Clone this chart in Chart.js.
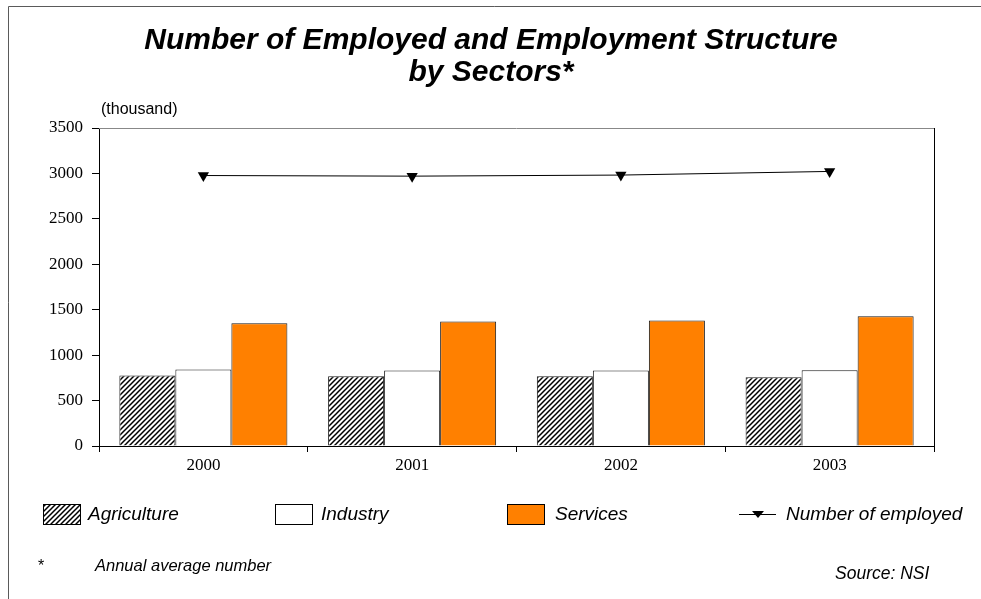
<!DOCTYPE html>
<html>
<head>
<meta charset="utf-8">
<script src="https://cdn.jsdelivr.net/npm/chart.js@4/dist/chart.umd.min.js"></script>
<style>
  html, body { margin: 0; padding: 0; background: #ffffff; }
  #wrap { width: 981px; height: 599px; position: relative; }
</style>
</head>
<body>
<div id="wrap"><canvas id="chart" width="981" height="599"></canvas></div>
<script>
// Employed persons by sector, thousands (annual average)
const years = ['2000', '2001', '2002', '2003'];
const agriculture = [776, 769, 769, 758];
const industry = [842, 831, 831, 835];
const services = [1351, 1369, 1380, 1428];
const employedTotal = [2977, 2970, 2982, 3022];
const yTicks = [0, 500, 1000, 1500, 2000, 2500, 3000, 3500];

const titleLines = ['Number of Employed and Employment Structure', 'by Sectors*'];
const unitLabel = '(thousand)';
const footnote = 'Annual average number';
const sourceNote = 'Source: NSI';

// Diagonal hatch fill for agriculture bars
function makeHatch() {
  const n = 5;
  const c = document.createElement('canvas');
  c.width = n; c.height = n;
  const g = c.getContext('2d');
  g.fillStyle = '#ffffff';
  g.fillRect(0, 0, n, n);
  g.strokeStyle = '#000000';
  g.lineWidth = 1.5;
  g.beginPath();
  g.moveTo(-1, n + 1); g.lineTo(n + 1, -1);
  g.moveTo(-1, 1); g.lineTo(1, -1);
  g.moveTo(n - 1, n + 1); g.lineTo(n + 1, n - 1);
  g.stroke();
  return document.getElementById('chart').getContext('2d').createPattern(c, 'repeat');
}
const hatch = makeHatch();

const SANS = '"Liberation Sans", Arial, sans-serif';
const SERIF = '"Liberation Serif", "Times New Roman", serif';

// Frame, titles, plot border, legend and notes
const decor = {
  id: 'decor',
  afterDraw(chart) {
    const ctx = chart.ctx;
    const a = chart.chartArea;
    ctx.save();

    // outer frame
    ctx.strokeStyle = '#5a5a5a';
    ctx.lineWidth = 1;
    ctx.beginPath();
    ctx.moveTo(8.5, 599); ctx.lineTo(8.5, 6.5); ctx.lineTo(981, 6.5);
    ctx.stroke();

    // plot top border (grey) and right border (black)
    ctx.strokeStyle = '#888888';
    ctx.beginPath();
    ctx.moveTo(a.left, Math.round(a.top) + 0.5); ctx.lineTo(a.right, Math.round(a.top) + 0.5);
    ctx.stroke();
    ctx.strokeStyle = '#000000';
    ctx.beginPath();
    ctx.moveTo(Math.round(a.right) + 0.5, a.top); ctx.lineTo(Math.round(a.right) + 0.5, a.bottom + 6);
    ctx.stroke();

    // title
    ctx.fillStyle = '#000000';
    ctx.textAlign = 'center';
    ctx.textBaseline = 'middle';
    ctx.font = 'italic bold 30px ' + SANS;
    ctx.fillText(titleLines[0], 491, 41);
    ctx.fillText(titleLines[1], 491, 73);

    // unit label
    ctx.textAlign = 'left';
    ctx.font = '16px ' + SANS;
    ctx.fillText(unitLabel, 101, 110);

    // legend
    const ds = chart.data.datasets;
    const ly = 514;
    const swatchX = [43, 275, 507];
    const textX = [88, 321, 555];
    ctx.font = 'italic 19px ' + SANS;
    for (let i = 0; i < 3; i++) {
      ctx.fillStyle = ds[i].backgroundColor;
      ctx.fillRect(swatchX[i], ly - 10, 38, 21);
      ctx.strokeStyle = '#000000';
      ctx.lineWidth = 1;
      ctx.strokeRect(swatchX[i] + 0.5, ly - 10 + 0.5, 37, 20);
      ctx.fillStyle = '#000000';
      ctx.fillText(ds[i].label, textX[i], ly + 1);
    }
    ctx.strokeStyle = '#000000';
    ctx.lineWidth = 1;
    ctx.beginPath();
    ctx.moveTo(739, ly + 0.5); ctx.lineTo(776, ly + 0.5);
    ctx.stroke();
    ctx.beginPath();
    ctx.moveTo(752, ly - 3); ctx.lineTo(764, ly - 3); ctx.lineTo(758, ly + 4);
    ctx.closePath();
    ctx.fill();
    ctx.fillText(ds[3].label, 786, ly + 1);

    // notes
    ctx.font = '16px ' + SANS;
    ctx.fillText('*', 38, 567);
    ctx.font = 'italic 16.5px ' + SANS;
    ctx.fillText(footnote, 95, 566);
    ctx.font = 'italic 17.5px ' + SANS;
    ctx.fillText(sourceNote, 835, 574);

    ctx.restore();
  }
};

new Chart(document.getElementById('chart'), {
  type: 'bar',
  data: {
    labels: years,
    datasets: [
      { label: 'Agriculture', data: agriculture, backgroundColor: hatch, borderColor: '#1a1a1a', borderWidth: 1, order: 2 },
      { label: 'Industry', data: industry, backgroundColor: '#ffffff', borderColor: '#1a1a1a', borderWidth: 1, order: 2 },
      { label: 'Services', data: services, backgroundColor: '#ff8000', borderColor: '#1a1a1a', borderWidth: 1, order: 2 },
      {
        label: 'Number of employed', type: 'line', data: employedTotal,
        borderColor: '#000000', borderWidth: 1, backgroundColor: '#000000',
        pointStyle: 'triangle', rotation: 180, pointRadius: 6.5, pointHoverRadius: 6.5,
        pointBackgroundColor: '#000000', pointBorderColor: '#000000', pointBorderWidth: 0,
        tension: 0, fill: false, order: 1
      }
    ]
  },
  options: {
    responsive: false,
    animation: false,
    events: [],
    layout: { padding: { left: 0, top: 128, right: 47, bottom: 123 } },
    plugins: { legend: { display: false }, title: { display: false }, tooltip: { enabled: false } },
    datasets: { bar: { categoryPercentage: 0.805, barPercentage: 1.0 } },
    scales: {
      x: {
        offset: true,
        grid: { offset: true, drawOnChartArea: false, drawTicks: true, tickLength: 6, color: '#000000' },
        border: { display: true, color: '#000000', width: 1 },
        ticks: { color: '#000000', font: { family: SERIF, size: 17 }, padding: 3 },
        afterFit(s) { s.height = 30; }
      },
      y: {
        min: 0, max: 3500,
        afterBuildTicks(s) { s.ticks = yTicks.map(v => ({ value: v })); },
        grid: { drawOnChartArea: false, drawTicks: true, tickLength: 7, color: '#000000' },
        border: { display: true, color: '#000000', width: 1 },
        ticks: { color: '#000000', font: { family: SERIF, size: 17 }, padding: 9, callback: v => String(v) },
        afterFit(s) { s.width = 99; }
      }
    }
  },
  plugins: [decor]
});
</script>
</body>
</html>
